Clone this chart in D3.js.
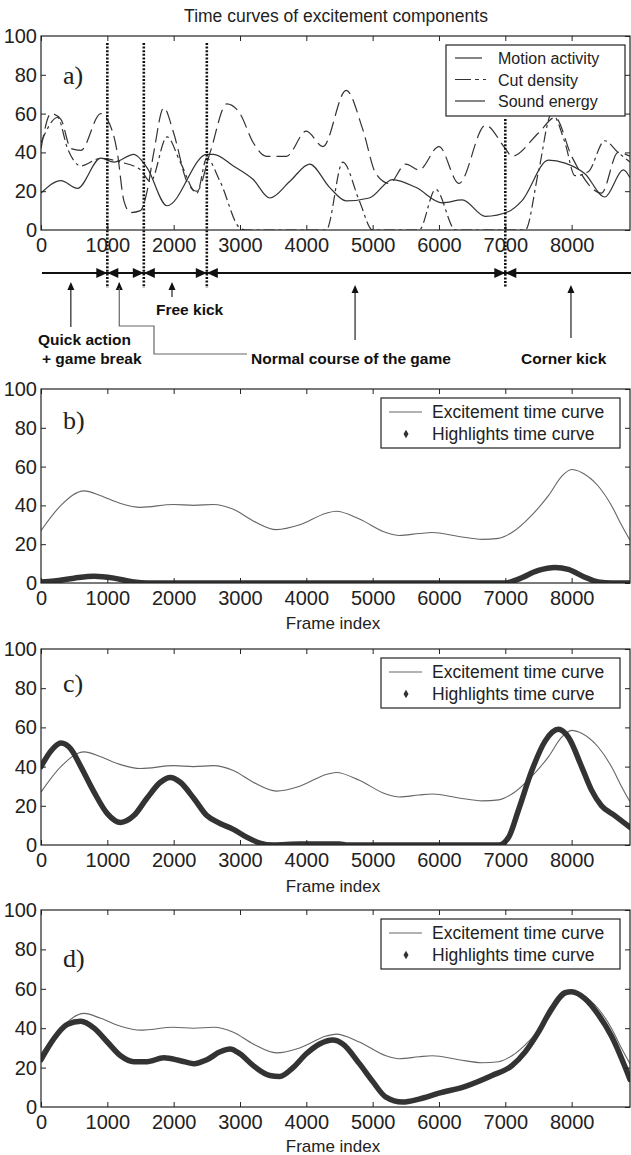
<!DOCTYPE html>
<html>
<head>
<meta charset="utf-8">
<script src="https://cdn.jsdelivr.net/npm/d3@7"></script>
<style>
body { margin: 0; background: #fff; }
text { font-family: "Liberation Sans", Arial, sans-serif; }
</style>
</head>
<body>
<svg id="fig" width="631" height="1155"></svg>
<script>
// ---- data (frame index / value) ----
var motionX = [0,150,300,450,600,900,1000,1150,1250,1350,1500,1600,1700,1850,2000,2200,2350,2550,2800,3000,3200,3400,3700,4000,4250,4600,4850,5050,5250,5500,5700,6000,6300,6700,7000,7100,7500,7750,8000,8450,8700,8880];
var motionY = [42,60,57,42,41,60,57,40,15,9,10,20,40,63,50,25,20,40,65,60,45,38,38,51,43,72,52,29,24,34,31,43,24,54,42,38,50,58,38,19,40,38];

var cutX = [0,250,400,600,900,1200,1500,1650,1900,2100,2350,2500,2700,3000,3100,4300,4550,4800,5000,5700,5950,6250,7300,7500,7700,7900,8050,8250,8500,8700,8880];
var cutY = [45,58,42,33,37,35,31,25,48,35,19,37,25,1,0,0,35,15,0,0,21,0,0,30,60,45,28,30,46,40,35];

var soundX = [0,300,550,900,1100,1400,1600,1900,2500,2600,2900,3200,3450,3750,4050,4350,4600,4950,5300,5650,6050,6350,6700,7050,7250,7650,7900,8200,8500,8780,8880];
var soundY = [19,25.5,21.5,37,35,39,32,12.5,39,39,33,26,16.5,25,34,22,15,16.5,26,22,14,15.5,7,9.5,15,36,34.5,29,17,31,27];

var excX = [0,300,650,900,1200,1500,2000,2300,2600,2900,3200,3550,3900,4300,4450,4800,5200,5400,5700,5900,6300,6650,6900,7100,7400,7650,7850,8000,8150,8400,8600,8750,8880];
var excY = [27,40,47.5,45,41,39,40.5,40,40.5,38,32,27.5,30,36,37,33,26,24.5,25.5,26,24,22.5,23,26,35,45,55,58.5,57,50,40,30,22];

var hlBX = [0,200,500,800,1100,1400,1600,7000,7200,7500,7750,7950,8200,8400,8600,8880];
var hlBY = [0.5,1,2.5,3.5,2.5,0.5,0,0,2,6.5,8,7,3,0.5,0,0];

var hlCX = [0,150,300,450,600,800,1000,1200,1400,1600,1800,1950,2100,2300,2500,2700,2900,3100,3300,3500,3900,4500,4600,6900,7050,7200,7400,7600,7800,7950,8150,8300,8450,8650,8880];
var hlCY = [40,48,52,49,40,27,16,11.5,15,24,32,34.5,32,24,15,11,8,4,1,0,0.5,0.5,0,0,4,18,38,53,59,55,40,28,20,15,9];

var hlDX = [0,200,400,600,800,1000,1200,1400,1600,1850,2100,2300,2500,2700,2850,3000,3200,3450,3600,3800,4000,4200,4400,4550,4800,5000,5200,5450,5700,6000,6400,6800,7100,7300,7500,7700,7900,8000,8200,8400,8600,8880];
var hlDY = [24,35,42,43.5,40,33,26,23,23,25,23.5,22,24,28,29.5,27,21,16,15.5,20,27,32,34,32,22,13,5,2.5,4,7,10.5,16,21,28,38,50,58,58.5,55,47,36,14];

var xTicks = [0,1000,2000,3000,4000,5000,6000,7000,8000];
var yTicks = [0,20,40,60,80,100];

// segment boundaries (frames) and annotation arrows
var boundaries = [1000,1550,2500,7000];
var compNames = ["Motion activity","Cut density","Sound energy"];
var hlNames = ["Excitement time curve","Highlights time curve"];

function zip(xs, ys) { return xs.map(function (d, i) { return [d, ys[i]]; }); }

var svg = d3.select("#fig");
var x = d3.scaleLinear().domain([0, 8880]).range([41, 630]);

var panels = [
    {id: "a", top: 36, bottom: 230, lab: 75},
    {id: "b", top: 389, bottom: 583, lab: 420, hl: zip(hlBX, hlBY), xlabel: 623},
    {id: "c", top: 649, bottom: 845, lab: 683, hl: zip(hlCX, hlCY), xlabel: 886},
    {id: "d", top: 910, bottom: 1107, lab: 958, hl: zip(hlDX, hlDY), xlabel: 1146}
];

var curve = d3.curveMonotoneX;

panels.forEach(function (p) {
    var y = d3.scaleLinear().domain([0, 100]).range([p.bottom, p.top]);
    var g = svg.append("g");

    g.append("clipPath").attr("id", "clip-" + p.id)
        .append("rect").attr("x", x.range()[0]).attr("y", p.top)
        .attr("width", x.range()[1] - x.range()[0]).attr("height", p.bottom - p.top);

    var line = d3.line().x(function (d) { return x(d[0]); }).y(function (d) { return y(d[1]); }).curve(curve);
    var plot = g.append("g").attr("clip-path", "url(#clip-" + p.id + ")");

    if (p.id === "a") {
        plot.append("path").datum(zip(motionX, motionY)).attr("d", line)
            .attr("fill", "none").attr("stroke", "#333").attr("stroke-width", 1.2).attr("stroke-dasharray", "14,6");
        plot.append("path").datum(zip(cutX, cutY)).attr("d", line)
            .attr("fill", "none").attr("stroke", "#333").attr("stroke-width", 1.2).attr("stroke-dasharray", "11,4,3,4");
        plot.append("path").datum(zip(soundX, soundY)).attr("d", line)
            .attr("fill", "none").attr("stroke", "#333").attr("stroke-width", 1.2);
    } else {
        plot.append("path").datum(zip(excX, excY)).attr("d", line)
            .attr("fill", "none").attr("stroke", "#666").attr("stroke-width", 1.1);
        plot.append("path").datum(p.hl).attr("d", line)
            .attr("fill", "none").attr("stroke", "#333").attr("stroke-width", 5.5)
            .attr("stroke-linecap", "round").attr("stroke-linejoin", "round");
    }

    // axes: ticks inside on all four sides
    var fmt = d3.format("d");
    var bottom = g.append("g").attr("transform", "translate(0," + p.bottom + ")")
        .call(d3.axisBottom(x).tickValues(xTicks).tickFormat(fmt).tickSizeInner(-5).tickSizeOuter(0).tickPadding(8));
    var top = g.append("g").attr("transform", "translate(0," + p.top + ")")
        .call(d3.axisTop(x).tickValues(xTicks).tickSizeInner(-5).tickSizeOuter(0).tickFormat(""));
    var left = g.append("g").attr("transform", "translate(" + x.range()[0] + ",0)")
        .call(d3.axisLeft(y).tickValues(yTicks).tickFormat(fmt).tickSizeInner(-5).tickSizeOuter(0).tickPadding(4));
    var right = g.append("g").attr("transform", "translate(" + x.range()[1] + ",0)")
        .call(d3.axisRight(y).tickValues(yTicks).tickSizeInner(-5).tickSizeOuter(0).tickFormat(""));
    [bottom, top, left, right].forEach(function (a) {
        a.select(".domain").remove();
        a.selectAll("line").attr("stroke", "#222");
        a.selectAll("text").attr("font-size", 20).attr("fill", "#222")
            .style("font-family", "'Liberation Sans', Arial, sans-serif");
    });
    left.selectAll(".tick").filter(function (d) { return d === 100 || d === 0; }).select("line").remove();

    g.append("rect").attr("x", x.range()[0]).attr("y", p.top)
        .attr("width", x.range()[1] - x.range()[0]).attr("height", p.bottom - p.top)
        .attr("fill", "none").attr("stroke", "#222").attr("stroke-width", 1.2);

    g.append("text").attr("x", 63).attr("y", p.lab + 9).text(p.id + ")")
        .style("font-family", "'Liberation Serif', 'Times New Roman', serif")
        .attr("font-size", 26).attr("fill", "#222");

    if (p.xlabel) {
        g.append("text").attr("x", 333).attr("y", p.xlabel + 6).attr("text-anchor", "middle")
            .attr("font-size", 17).attr("fill", "#222").text("Frame index");
    }

    // legend
    if (p.id === "a") {
        var lg = g.append("g");
        lg.append("rect").attr("x", 446).attr("y", 45).attr("width", 179).attr("height", 71)
            .attr("fill", "#fff").attr("stroke", "#222").attr("stroke-width", 1.2);
        var dashes = [null, "16,4,4,4", null];
        var ends = [482, 486, 485];
        compNames.forEach(function (n, i) {
            var ly = 58 + i * 21.5;
            lg.append("line").attr("x1", 455).attr("x2", ends[i]).attr("y1", ly).attr("y2", ly)
                .attr("stroke", "#333").attr("stroke-width", 1.2).attr("stroke-dasharray", dashes[i]);
            lg.append("text").attr("x", 498).attr("y", ly + 6).attr("font-size", 16)
                .attr("fill", "#222").text(n);
        });
    } else {
        var lg2 = g.append("g");
        lg2.append("rect").attr("x", 381).attr("y", p.top + 9).attr("width", 239).attr("height", 50)
            .attr("fill", "#fff").attr("stroke", "#222").attr("stroke-width", 1.2);
        lg2.append("line").attr("x1", 389).attr("x2", 422).attr("y1", p.top + 23).attr("y2", p.top + 23)
            .attr("stroke", "#666").attr("stroke-width", 1.1);
        lg2.append("path").attr("d", d3.symbol(d3.symbolDiamond, 22)())
            .attr("transform", "translate(406," + (p.top + 45) + ")").attr("fill", "#333");
        hlNames.forEach(function (n, i) {
            lg2.append("text").attr("x", 432).attr("y", p.top + 29 + i * 22).attr("font-size", 17.5)
                .attr("fill", "#222").text(n);
        });
    }
});

// title
svg.append("text").attr("x", 336).attr("y", 22).attr("text-anchor", "middle")
    .attr("font-size", 17.5).attr("fill", "#222").text("Time curves of excitement components");

// ---- segment annotation under panel a ----
var ann = svg.append("g");
var axisY = 273;
ann.append("line").attr("x1", 42).attr("x2", 631).attr("y1", axisY).attr("y2", axisY)
    .attr("stroke", "#111").attr("stroke-width", 2.2);
boundaries.forEach(function (b) {
    var bx = x(b);
    ann.append("path").attr("d", "M" + bx + "," + axisY + "L" + (bx - 11) + "," + (axisY - 5) + "L" + (bx - 11) + "," + (axisY + 5) + "Z").attr("fill", "#111");
    ann.append("path").attr("d", "M" + bx + "," + axisY + "L" + (bx + 11) + "," + (axisY - 5) + "L" + (bx + 11) + "," + (axisY + 5) + "Z").attr("fill", "#111");
    ann.append("line").attr("x1", bx).attr("x2", bx).attr("y1", b === 7000 ? 119 : 43).attr("y2", 288)
        .attr("stroke", "#111").attr("stroke-width", 2.6).attr("stroke-dasharray", "2,1.6");
});

function upArrow(px, y1, y2, col) {
    ann.append("line").attr("x1", px).attr("x2", px).attr("y1", y1 + 6).attr("y2", y2)
        .attr("stroke", col).attr("stroke-width", 1.2);
    ann.append("path").attr("d", "M" + px + "," + y1 + "L" + (px - 3.5) + "," + (y1 + 8) + "L" + (px + 3.5) + "," + (y1 + 8) + "Z")
        .attr("fill", "#111");
}
upArrow(x(450), 282, 327, "#222");
upArrow(x(1975), 282, 297, "#222");
upArrow(x(4735), 285, 340, "#222");
upArrow(x(7990), 285, 338, "#222");
upArrow(x(1180), 282, 283, "#222");
ann.append("path").attr("d", "M" + x(1180) + ",288V326H154V354H247")
    .attr("fill", "none").attr("stroke", "#666").attr("stroke-width", 1.2);

var labels = [
    {t: "Free kick", x: 156, y: 315},
    {t: "Quick action", x: 38, y: 345},
    {t: "+ game break", x: 42, y: 364},
    {t: "Normal course of the game", x: 251, y: 364},
    {t: "Corner kick", x: 521, y: 364}
];
labels.forEach(function (l) {
    ann.append("text").attr("x", l.x).attr("y", l.y).attr("font-size", 15.5)
        .attr("font-weight", "bold").attr("fill", "#111").text(l.t);
});
</script>
</body>
</html>
